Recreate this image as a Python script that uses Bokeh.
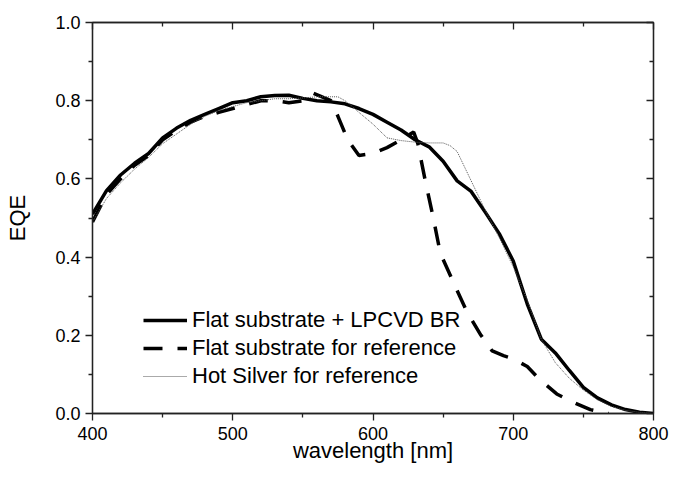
from bokeh.plotting import figure
from bokeh.models import (Range1d, FixedTicker, LinearAxis, NumeralTickFormatter,
                          Legend, LegendItem, CustomLabelingPolicy)
from bokeh.embed import file_html
from bokeh.resources import INLINE

# ---- data ----
wl_br = [400, 410, 420, 430, 440, 450, 460, 470, 480, 490, 500, 510, 520, 530, 540,
         550, 560, 570, 580, 590, 600, 610, 620, 630, 640, 650, 660, 670, 680, 690,
         700, 710, 720, 730, 740, 750, 760, 770, 780, 790, 800]
eqe_br = [0.51, 0.57, 0.61, 0.64, 0.665, 0.705, 0.73, 0.75, 0.765, 0.78, 0.795, 0.80,
          0.81, 0.813, 0.814, 0.806, 0.80, 0.797, 0.792, 0.78, 0.765, 0.745, 0.725,
          0.70, 0.682, 0.645, 0.595, 0.568, 0.515, 0.46, 0.39, 0.28, 0.19, 0.155,
          0.11, 0.067, 0.04, 0.022, 0.01, 0.003, 0.0]

wl_flat = [400, 410, 420, 430, 440, 450, 460, 470, 480, 490, 500, 510, 520, 530, 540,
           550, 557, 570, 575, 582, 590, 600, 610, 620, 629, 632, 637, 643, 648, 658,
           667, 677, 685, 693, 700, 710, 718, 731, 742, 755, 768]
eqe_flat = [0.49, 0.56, 0.60, 0.635, 0.66, 0.70, 0.725, 0.745, 0.76, 0.77, 0.78, 0.79,
            0.80, 0.80, 0.795, 0.80, 0.82, 0.80, 0.76, 0.70, 0.66, 0.665, 0.68, 0.70,
            0.72, 0.69, 0.60, 0.50, 0.41, 0.33, 0.26, 0.20, 0.16, 0.148, 0.14, 0.12,
            0.09, 0.05, 0.03, 0.01, 0.0]

wl_ag = [400, 410, 420, 430, 440, 450, 460, 470, 480, 490, 500, 510, 520, 530, 540,
         550, 560, 570, 575, 580, 585, 590, 600, 610, 620, 630, 640, 650, 655, 660,
         670, 680, 690, 700, 710, 720, 730, 740, 750, 760, 770, 780, 790, 800]
eqe_ag = [0.49, 0.55, 0.59, 0.625, 0.655, 0.69, 0.715, 0.74, 0.76, 0.775, 0.785, 0.795,
          0.80, 0.805, 0.805, 0.807, 0.81, 0.81, 0.81, 0.80, 0.786, 0.77, 0.74, 0.705,
          0.698, 0.694, 0.692, 0.692, 0.685, 0.67, 0.595, 0.52, 0.45, 0.375, 0.29,
          0.19, 0.13, 0.09, 0.06, 0.035, 0.018, 0.008, 0.003, 0.0]

labels = ["Flat substrate + LPCVD BR", "Flat substrate for reference",
          "Hot Silver for reference"]
x_title = "wavelength [nm]"
y_title = "EQE"
x_major = [400, 500, 600, 700, 800]
x_minor = [450, 550, 650, 750]
y_major = [0.0, 0.2, 0.4, 0.6, 0.8, 1.0]
y_minor = [0.1, 0.3, 0.5, 0.7, 0.9]

FONT = "Liberation Sans"
AX = "#222222"

p = figure(width=669, height=454, output_backend="svg", toolbar_location=None,
           x_range=Range1d(x_major[0], x_major[-1]),
           y_range=Range1d(y_major[0], y_major[-1]),
           min_border_left=0, min_border_right=0, min_border_top=0,
           min_border_bottom=0, margin=(11, 0, 0, 2))
p.grid.visible = False
p.outline_line_color = AX
p.outline_line_width = 1.3

xt = FixedTicker(ticks=x_major, minor_ticks=x_minor)
yt = FixedTicker(ticks=y_major, minor_ticks=y_minor)


def style_ticks(ax, inside):
    ax.axis_line_color = AX
    ax.axis_line_width = 1.3
    ax.major_tick_line_color = AX
    ax.minor_tick_line_color = AX
    ax.major_tick_line_width = 1.3
    ax.minor_tick_line_width = 1.3
    ax.major_tick_in = 7 if inside else 0
    ax.major_tick_out = 0 if inside else 7
    ax.minor_tick_in = 4 if inside else 0
    ax.minor_tick_out = 0 if inside else 4


for ax in (p.xaxis[0], p.yaxis[0]):
    style_ticks(ax, False)
    ax.major_label_text_font = FONT
    ax.major_label_text_font_size = "18px"
    ax.major_label_text_color = "black"
    ax.axis_label_text_font = FONT
    ax.axis_label_text_font_style = "normal"
    ax.axis_label_text_font_size = "22px"
    ax.axis_label_text_color = "black"

p.xaxis[0].ticker = xt
p.yaxis[0].ticker = yt
p.yaxis[0].formatter = NumeralTickFormatter(format="0.0")
p.xaxis[0].axis_label = x_title
p.yaxis[0].axis_label = y_title
p.xaxis[0].major_label_standoff = 6
p.xaxis[0].axis_label_standoff = -5
p.yaxis[0].major_label_standoff = 5
p.yaxis[0].axis_label_standoff = 22

hide_all = CustomLabelingPolicy(code="""
    for (const i of indices)
        indices.unset(i)
    return indices
""")

for loc, ticker in (("above", xt), ("right", yt)):
    ax = LinearAxis(ticker=ticker, major_label_policy=hide_all)
    style_ticks(ax, True)
    ax.major_label_standoff = 0
    p.add_layout(ax, loc)

r1 = p.line(wl_br, eqe_br, line_color="black", line_width=3.5, line_join="round")
r2 = p.line(wl_flat, eqe_flat, line_color="black", line_width=3.5,
            line_dash="19 15", line_cap="butt")
r3 = p.line(wl_ag, eqe_ag, line_color="#555555", line_width=1, line_dash="1 1")

legend = Legend(items=[LegendItem(label=labels[0], renderers=[r1]),
                       LegendItem(label=labels[1], renderers=[r2]),
                       LegendItem(label=labels[2], renderers=[r3])],
                location=(51, 24), padding=0, margin=0, spacing=2,
                glyph_width=44, glyph_height=20, label_height=20,
                label_standoff=5, border_line_color=None,
                background_fill_alpha=0,
                label_text_font=FONT, label_text_font_size="22px",
                label_text_color="black")
p.add_layout(legend, "center")

open("out.html", "w").write(file_html(p, INLINE))
